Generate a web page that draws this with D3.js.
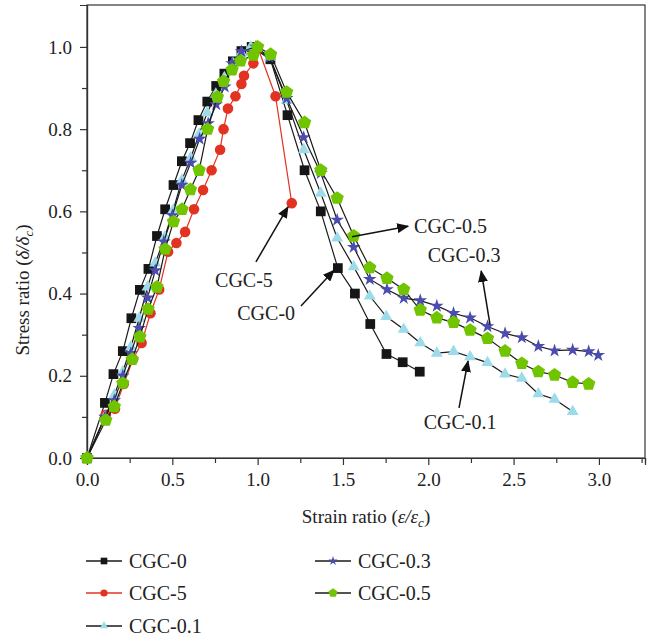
<!DOCTYPE html>
<html><head><meta charset="utf-8">
<script src="https://cdn.jsdelivr.net/npm/d3@7"></script>
<style>body{margin:0;background:#fff}svg{display:block}text{font-family:"Liberation Serif","Times New Roman",serif;fill:#222}</style>
</head><body><svg id="c" width="657" height="639"></svg>
<script>
// ---- data ----
const seriesNames = ["CGC-0","CGC-5","CGC-0.1","CGC-0.3","CGC-0.5"];
const cgc0X = [0,0.105,0.155,0.21,0.26,0.31,0.36,0.41,0.458,0.507,0.556,0.604,0.653,0.705,0.757,0.805,0.855,0.905,0.965,1.075,1.175,1.275,1.37,1.47,1.57,1.66,1.755,1.85,1.95];
const cgc0Y = [0,0.134,0.204,0.26,0.34,0.409,0.46,0.54,0.605,0.664,0.722,0.766,0.822,0.867,0.905,0.935,0.965,0.99,1.0,0.97,0.834,0.70,0.60,0.462,0.40,0.326,0.253,0.233,0.21];
const cgc5X = [0,0.11,0.164,0.215,0.27,0.32,0.372,0.423,0.475,0.524,0.575,0.627,0.68,0.73,0.78,0.80,0.826,0.87,0.905,0.92,0.975,1.0,1.105,1.20];
const cgc5Y = [0,0.105,0.12,0.18,0.24,0.28,0.352,0.41,0.502,0.523,0.55,0.605,0.652,0.70,0.75,0.80,0.85,0.88,0.91,0.93,0.96,1.0,0.88,0.62];
const cgc01X = [0,0.105,0.16,0.21,0.257,0.306,0.355,0.40,0.456,0.505,0.556,0.608,0.657,0.705,0.755,0.805,0.855,0.905,0.96,1.07,1.17,1.27,1.37,1.466,1.563,1.657,1.754,1.856,1.953,2.05,2.148,2.245,2.347,2.45,2.548,2.645,2.74,2.846];
const cgc01Y = [0,0.10,0.153,0.21,0.27,0.34,0.416,0.474,0.538,0.603,0.676,0.73,0.788,0.84,0.885,0.925,0.96,0.985,1.0,0.975,0.87,0.75,0.644,0.535,0.465,0.394,0.344,0.313,0.28,0.255,0.259,0.246,0.232,0.204,0.194,0.156,0.143,0.113];
const cgc03X = [0,0.105,0.16,0.21,0.257,0.306,0.355,0.40,0.45,0.50,0.556,0.608,0.66,0.71,0.757,0.807,0.85,0.905,0.99,1.07,1.17,1.27,1.37,1.466,1.563,1.657,1.758,1.856,1.953,2.05,2.148,2.245,2.347,2.45,2.548,2.645,2.74,2.846,2.94,2.996];
const cgc03Y = [0,0.10,0.14,0.20,0.255,0.316,0.39,0.456,0.526,0.59,0.664,0.718,0.776,0.814,0.86,0.903,0.96,0.989,1.0,0.975,0.875,0.78,0.693,0.579,0.513,0.435,0.41,0.389,0.383,0.37,0.352,0.341,0.32,0.303,0.293,0.272,0.261,0.263,0.259,0.25];
const cgc05X = [0,0.11,0.16,0.21,0.265,0.31,0.358,0.41,0.458,0.507,0.557,0.606,0.657,0.707,0.764,0.80,0.85,0.90,0.975,1.0,1.076,1.17,1.275,1.37,1.466,1.563,1.657,1.758,1.856,1.953,2.05,2.148,2.245,2.347,2.45,2.548,2.645,2.74,2.846,2.94];
const cgc05Y = [0,0.092,0.125,0.182,0.24,0.295,0.362,0.416,0.508,0.575,0.605,0.653,0.70,0.80,0.878,0.916,0.944,0.966,0.98,1.0,0.982,0.89,0.816,0.70,0.632,0.54,0.463,0.437,0.41,0.36,0.341,0.33,0.311,0.291,0.26,0.23,0.21,0.202,0.184,0.18];
const xTicks = [0,0.5,1.0,1.5,2.0,2.5,3.0];
const yTicks = [0,0.2,0.4,0.6,0.8,1.0];
// annotation anchors in data units: label, text x, text y, arrow from, arrow to
const annLabels = ["CGC-5","CGC-0","CGC-0.5","CGC-0.3","CGC-0.1"];
const annText = [[0.92,0.416,"middle"],[1.05,0.336,"middle"],[1.917,0.547,"start"],[2.21,0.477,"middle"],[2.186,0.07,"middle"]];
const annArrow = [[0.99,0.477,1.178,0.611],[1.254,0.37,1.448,0.457],[1.553,0.538,1.882,0.564],[2.362,0.324,2.31,0.455],[2.18,0.122,2.233,0.236]];

// ---- styles ----
const colors = {"CGC-0":"#161616","CGC-5":"#e23322","CGC-0.1":"#9cdbe9","CGC-0.3":"#4c4cae","CGC-0.5":"#70c400"};
const lineColors = {"CGC-0":"#1a1a1a","CGC-5":"#e23322","CGC-0.1":"#1a1a1a","CGC-0.3":"#1a1a1a","CGC-0.5":"#1a1a1a"};

const series = [
  {name:"CGC-0", x:cgc0X, y:cgc0Y, shape:"square"},
  {name:"CGC-5", x:cgc5X, y:cgc5Y, shape:"circle"},
  {name:"CGC-0.1", x:cgc01X, y:cgc01Y, shape:"triangle"},
  {name:"CGC-0.3", x:cgc03X, y:cgc03Y, shape:"star"},
  {name:"CGC-0.5", x:cgc05X, y:cgc05Y, shape:"pentagon"}
];

const svg = d3.select("#c");
const x = d3.scaleLinear().domain([0,3.27]).range([87,645]);
const y = d3.scaleLinear().domain([0,1.102]).range([458,5]);

function pentagonPath(r){
  const pts=[];for(let i=0;i<5;i++){const a=-Math.PI/2+i*2*Math.PI/5;pts.push([r*Math.cos(a),r*Math.sin(a)]);}
  return "M"+pts.map(p=>p.join(",")).join("L")+"Z";
}
function shapePath(shape, scale){
  const s = scale||1;
  if(shape==="square") return d3.symbol(d3.symbolSquare, 95*s*s)();
  if(shape==="circle") return d3.symbol(d3.symbolCircle, 88*s*s)();
  if(shape==="triangle") return d3.symbol(d3.symbolTriangle, 62*s*s)();
  if(shape==="star") return d3.symbol(d3.symbolStar, 58*s*s)();
  return pentagonPath(7*s);
}

// frame
svg.append("rect").attr("x",x(0)).attr("y",y(1.102)).attr("width",x(3.27)-x(0)).attr("height",y(0)-y(1.102))
  .attr("fill","none").attr("stroke","#333").attr("stroke-width",1.2);

// axes
const xAxis = svg.append("g").attr("transform",`translate(0,${y(0)})`)
  .call(d3.axisBottom(x).tickValues(xTicks).tickSize(7).tickPadding(8).tickFormat(d3.format(".1f")));
const xMinor = svg.append("g").attr("transform",`translate(0,${y(0)})`)
  .call(d3.axisBottom(x).tickValues(d3.range(0.25,3.3,0.5)).tickSize(5).tickFormat(""));
const yAxis = svg.append("g").attr("transform",`translate(${x(0)},0)`)
  .call(d3.axisLeft(y).tickValues(yTicks).tickSize(7).tickPadding(8).tickFormat(d3.format(".1f")));
const yMinor = svg.append("g").attr("transform",`translate(${x(0)},0)`)
  .call(d3.axisLeft(y).tickValues([0.1,0.3,0.5,0.7,0.9]).tickSize(5).tickFormat(""));
[xAxis,xMinor,yAxis,yMinor].forEach(g=>{
  g.select(".domain").attr("stroke","#333").attr("stroke-width",1.2);
  g.selectAll(".tick line").attr("stroke","#333").attr("stroke-width",1.2);
  g.selectAll(".tick text").attr("font-size",19).attr("font-family","Liberation Serif").attr("fill","#222");
});

// axis titles
const xt = svg.append("text").attr("x",(x(0)+x(3.27))/2).attr("y",523).attr("text-anchor","middle").attr("font-size",19);
xt.append("tspan").text("Strain ratio (");
xt.append("tspan").attr("font-style","italic").text("ε/ε");
xt.append("tspan").attr("font-style","italic").attr("font-size",13).attr("dy",4).text("c");
xt.append("tspan").attr("dy",-4).text(")");
const yt = svg.append("text").attr("transform","translate(29,290) rotate(-90)").attr("text-anchor","middle").attr("font-size",19);
yt.append("tspan").text("Stress ratio (");
yt.append("tspan").attr("font-style","italic").text("δ/δ");
yt.append("tspan").attr("font-style","italic").attr("font-size",13).attr("dy",4).text("c");
yt.append("tspan").attr("dy",-4).text(")");

// series
const line = d3.line().x(d=>x(d[0])).y(d=>y(d[1]));
series.forEach(s=>{
  const pts = s.x.map((v,i)=>[v,s.y[i]]);
  const g = svg.append("g");
  g.append("path").attr("d",line(pts)).attr("fill","none").attr("stroke",lineColors[s.name]).attr("stroke-width",1.2);
  g.selectAll("path.m").data(pts).enter().append("path").attr("class","m")
    .attr("transform",d=>`translate(${x(d[0])},${y(d[1])})`)
    .attr("d",shapePath(s.shape)).attr("fill",colors[s.name]);
});

// annotations
const defs = svg.append("defs");
defs.append("marker").attr("id","ah").attr("viewBox","0 0 12 10").attr("refX",11).attr("refY",5)
  .attr("markerWidth",12).attr("markerHeight",10).attr("markerUnits","userSpaceOnUse").attr("orient","auto")
  .append("path").attr("d","M0,0 L12,5 L0,10 Z").attr("fill","#111");
annLabels.forEach((lab,i)=>{
  const t = annText[i], a = annArrow[i];
  svg.append("text").attr("x",x(t[0])).attr("y",y(t[1])).attr("text-anchor",t[2]).attr("font-size",20).text(lab);
  svg.append("line").attr("x1",x(a[0])).attr("y1",y(a[1])).attr("x2",x(a[2])).attr("y2",y(a[3]))
    .attr("stroke","#111").attr("stroke-width",1.5).attr("marker-end","url(#ah)");
});

// legend
const legendCols = [86,315];
const legendRows = [561,593,626];
const legendPos = [[0,0],[0,1],[0,2],[1,0],[1,1]];
series.forEach((s,i)=>{
  const lx = legendCols[legendPos[i][0]], ly = legendRows[legendPos[i][1]];
  const g = svg.append("g").attr("transform",`translate(${lx},${ly})`);
  g.append("line").attr("x1",0).attr("x2",36).attr("y1",0).attr("y2",0).attr("stroke",lineColors[s.name]).attr("stroke-width",1.3);
  g.append("path").attr("transform","translate(18,0)").attr("d",shapePath(s.shape,0.68)).attr("fill",colors[s.name]);
  g.append("text").attr("x",43).attr("y",7).attr("font-size",20).text(s.name);
});
</script></body></html>
